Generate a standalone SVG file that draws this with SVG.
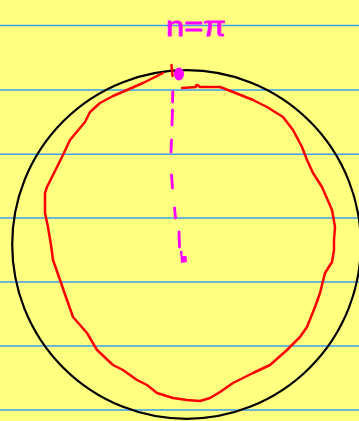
<svg xmlns="http://www.w3.org/2000/svg" width="359" height="421" viewBox="0 0 359 421">
<style>
.rule{stroke:#3d9df0;stroke-width:1.5}
.red{fill:none;stroke:#ff0000;stroke-width:2.5;stroke-linecap:round;stroke-linejoin:round}
.mag{fill:none;stroke:#ff00ff;stroke-width:2.8;stroke-linecap:round}
</style>
<rect width="359" height="421" fill="#ffff80"/>
<g id="rules">
<line class="rule" x1="0" y1="25.5" x2="359" y2="25.5"/>
<line class="rule" x1="0" y1="90" x2="359" y2="90"/>
<line class="rule" x1="0" y1="154.3" x2="359" y2="154.3"/>
<line class="rule" x1="0" y1="218" x2="359" y2="218"/>
<line class="rule" x1="0" y1="282" x2="359" y2="282"/>
<line class="rule" x1="0" y1="346" x2="359" y2="346"/>
<line class="rule" x1="0" y1="410" x2="359" y2="410"/>
</g>
<g id="circle">
<circle cx="186.5" cy="244.5" r="174.3" fill="none" stroke="#000" stroke-width="2.2"/>
</g>
<g id="blob">
<path class="red" d="M163,73 L153,78 L143,83 L127,90 L113,96 L100,103 L90,112 L85,122 L80,128 L70,140 L62,157 L57,167 L52,177 L47,187 L45,193 L45,213 L48,227 L51,245 L53,260 L60,280 L67,300 L73,317 L87,333 L97,350 L113,365 L123,370 L137,380 L147,385 L157,393 L173,398 L187,400 L200,401 L210,398 L220,392 L233,383 L253,373 L270,365 L287,350 L300,337 L307,327 L315,307 L320,293 L325,273 L332,262 L334,250 L334,240 L335,227 L332,210 L322,187 L313,173 L307,160 L302,147 L293,130 L283,117 L267,107 L253,100 L233,92 L220,87 L200,87 C197,84 195,85 196,87 L182,88"/>
<path class="red" d="M171.5,65 L172.5,76"/>
</g>
<g id="radius">
<ellipse cx="179" cy="74" rx="5" ry="6.5" fill="#ff00ff"/>
<path class="mag" d="M172.7,92 L172.6,102 M172.5,110 L172,125 M171.5,140 L171,152 M171.5,175 L172.5,188 M174.5,208 L175.5,218 M179,232 L179.5,247"/>
<path d="M180,251 L182.5,251 L182.5,256 L186.5,256 L187,262 L181,263 Z" fill="#ff00ff"/>
</g>
<g id="label">
<text x="166" y="36" font-family="Liberation Sans, sans-serif" font-size="28" fill="#ff00ff" stroke="#ff00ff" stroke-width="0.8" textLength="60" lengthAdjust="spacingAndGlyphs">n=π</text>
</g>
</svg>
